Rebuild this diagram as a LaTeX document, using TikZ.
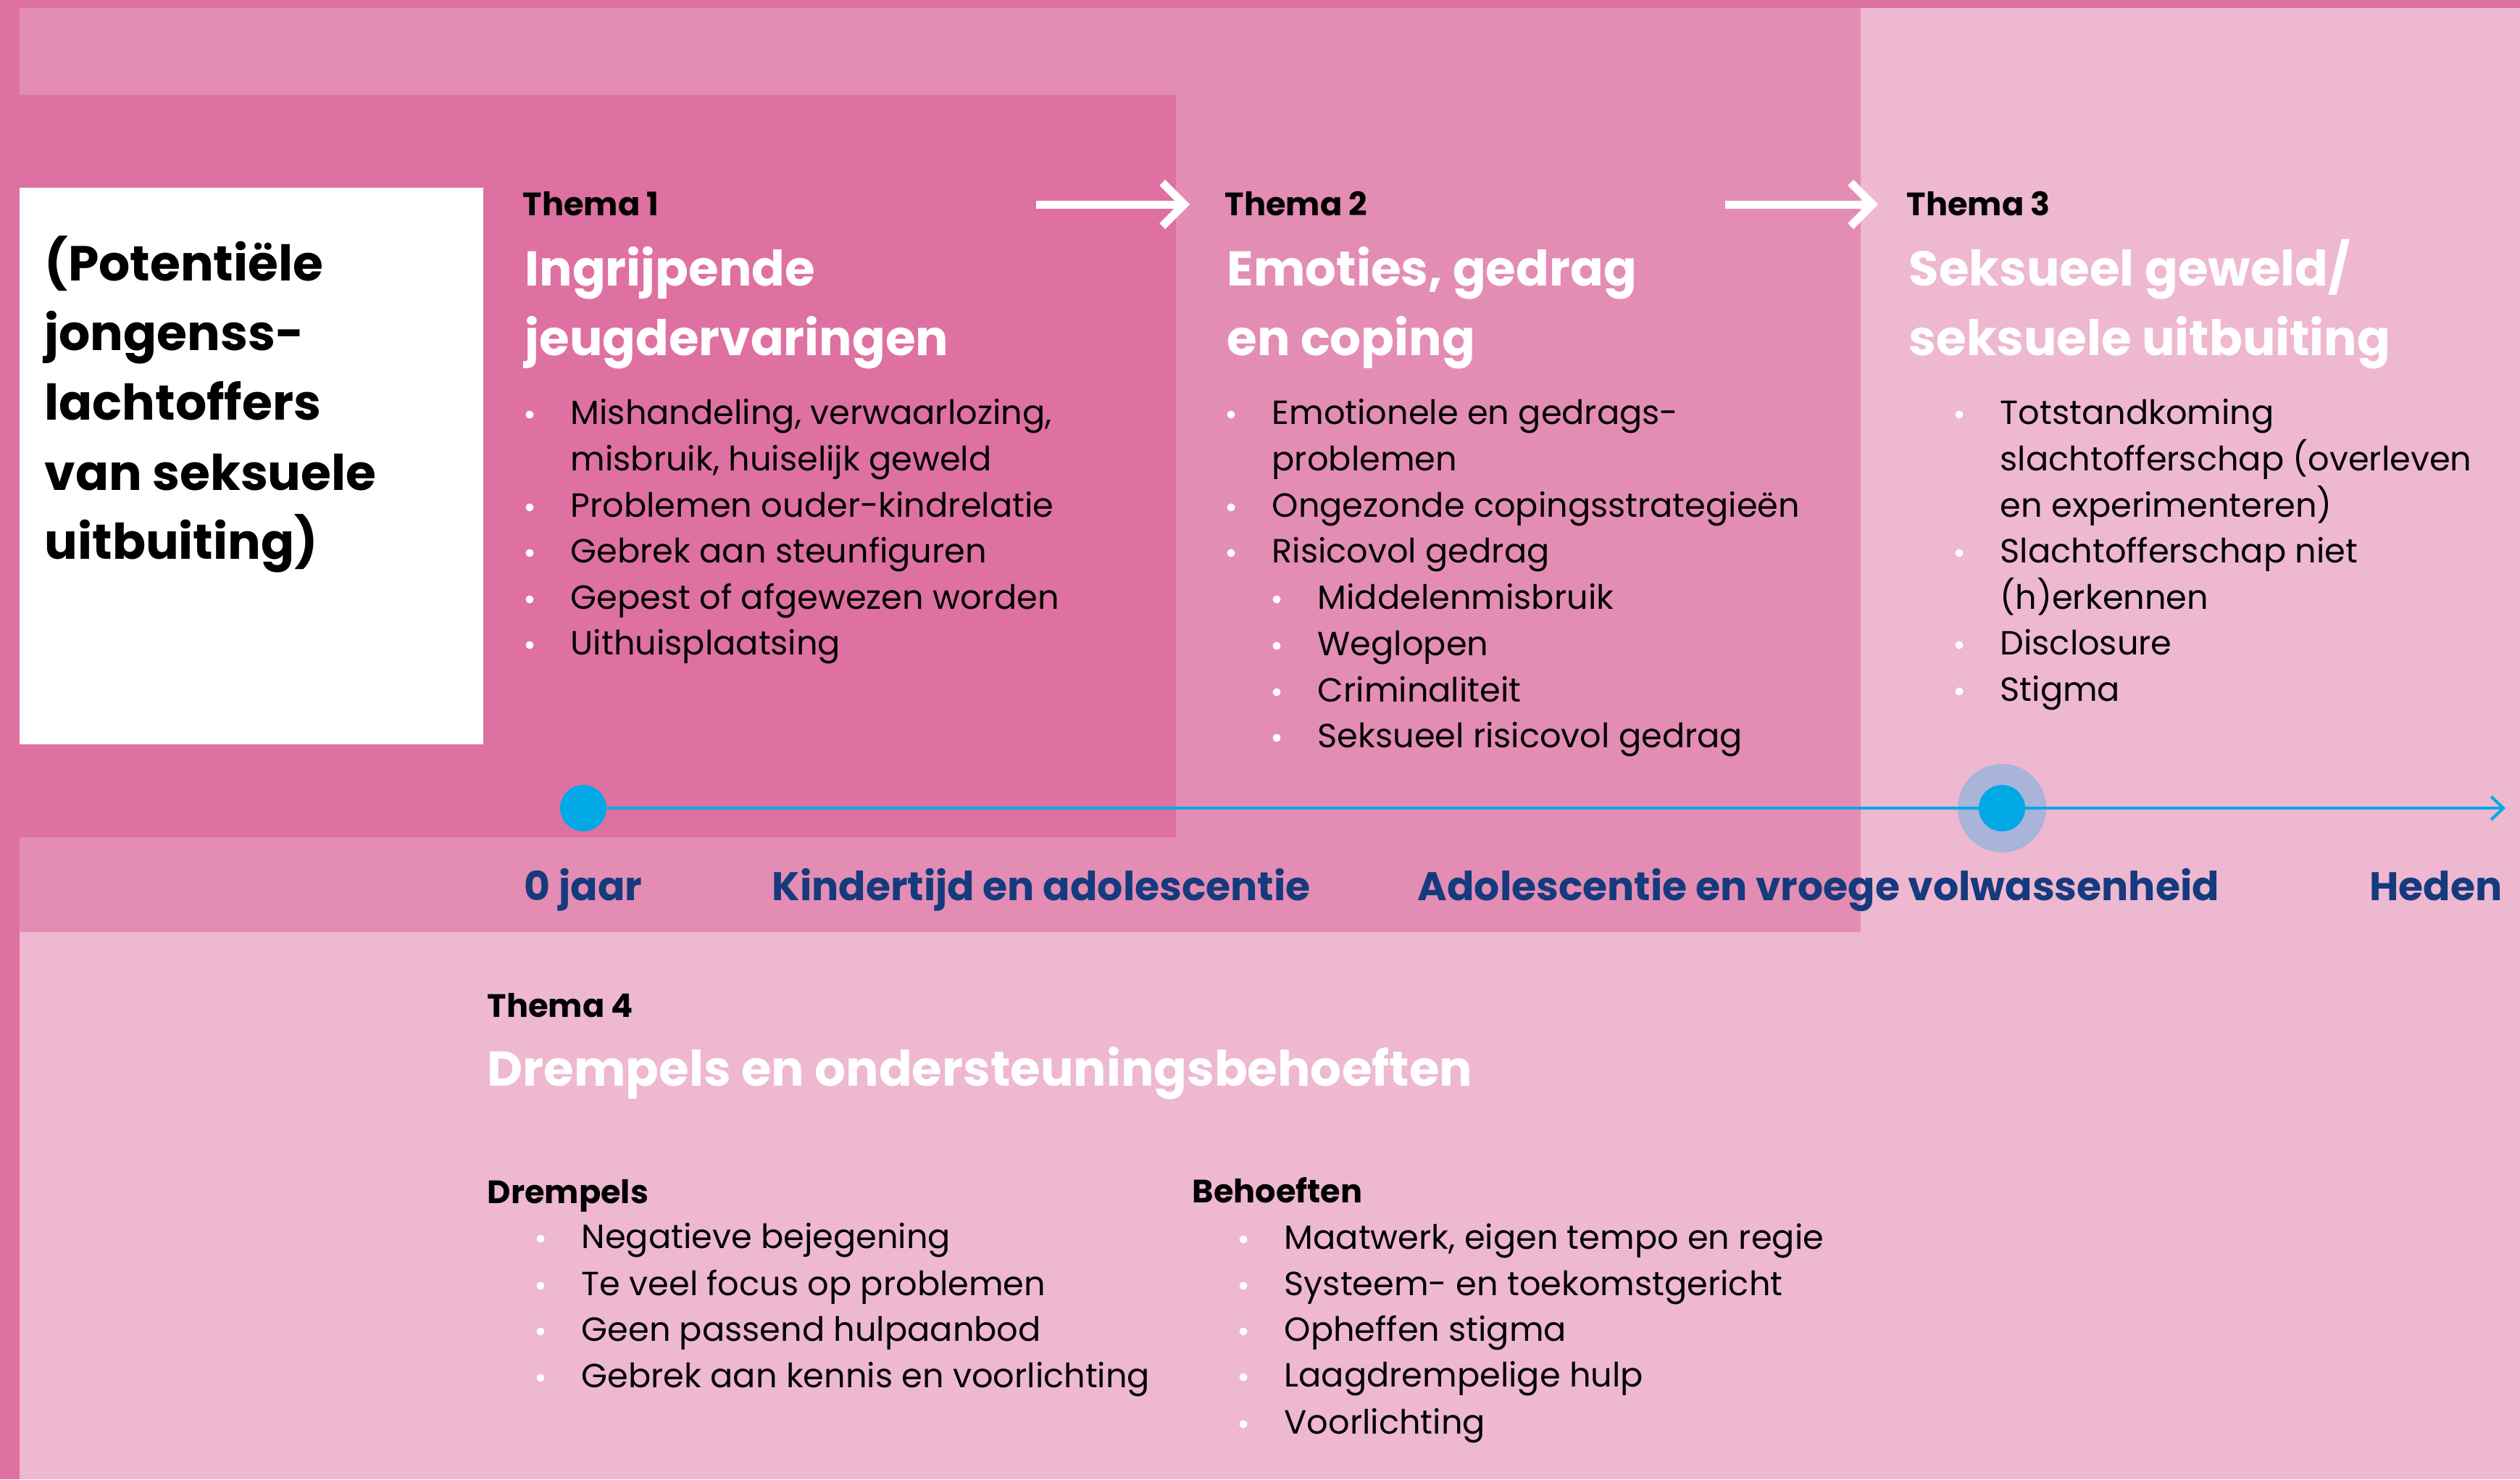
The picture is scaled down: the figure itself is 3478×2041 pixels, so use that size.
\documentclass[tikz,border=0pt]{standalone}
\usepackage{fontspec}
\setmainfont{Poppins}
\usetikzlibrary{arrows.meta}
\definecolor{pdark}{HTML}{DE71A1}
\definecolor{pmed}{HTML}{E38DB4}
\definecolor{plight}{HTML}{EEB8D0}
\definecolor{tcyan}{HTML}{00A9E6}
\definecolor{thalo}{HTML}{A8B4D8}
\definecolor{tblue}{HTML}{153A7D}
\tikzset{
  body/.style={anchor=base west, inner sep=0pt, text=black, font=\fontsize{13.15}{16}\selectfont},
  themalbl/.style={anchor=base west, inner sep=0pt, text=black, font=\fontsize{12.7}{16}\selectfont\bfseries},
  ttl/.style={anchor=base west, inner sep=0pt, text=white, font=\fontsize{19.2}{24}\selectfont\bfseries},
  boxtxt/.style={anchor=base west, inner sep=0pt, text=black, font=\fontsize{19.3}{22}\selectfont\bfseries},
  tlbl/.style={anchor=base west, inner sep=0pt, text=tblue, font=\fontsize{15.7}{20}\selectfont\bfseries},
  warrow/.style={draw=white, line width=0.11cm, -{Straight Barb[length=0.30cm,width=0.60cm]}},
  tline/.style={draw=tcyan, line width=0.04cm, -{Straight Barb[length=0.17cm,width=0.32cm]}},
  tdot/.style={circle, fill=tcyan, inner sep=0pt, minimum size=0.64cm},
  hdot/.style={circle, fill=thalo, inner sep=0pt, minimum size=1.22cm},
}
\newcommand{\bdot}[2]{\fill[white] (#1,#2) circle (0.055cm);}
\begin{document}
\begin{tikzpicture}[x=0.01cm,y=-0.01cm]
\useasboundingbox (0,0) rectangle (3478,2041);
% backgrounds
\fill[pdark] (0,0) rectangle (3478,2041);
\fill[pmed] (27,11) rectangle (2568,1286);
\fill[plight] (2568,11) rectangle (3478,1286);
\fill[plight] (27,1286) rectangle (3478,2041);
\fill[pdark] (0,131) rectangle (1623,1155);
\fill[white] (27,259) rectangle (667,1027);

% white box text
\node[boxtxt] (b1) at (61,387) {(Potentiële};
\node[boxtxt] (b2) at (61,483) {jongenss-};
\node[boxtxt] (b3) at (61,579) {lachtoffers};
\node[boxtxt] (b4) at (61,676) {van seksuele};
\node[boxtxt] (b5) at (61,771) {uitbuiting)};

% arrows between themes
\coordinate (a1s) at (1430,282);
\coordinate (a1e) at (1642,282);
\coordinate (a2s) at (2381,282);
\coordinate (a2e) at (2592,282);
\draw[warrow] (a1s) -- (a1e);
\draw[warrow] (a2s) -- (a2e);

% Thema 1
\node[themalbl] (th1) at (721,297) {Thema 1};
\node[ttl] (t1a) at (724,394) {Ingrijpende};
\node[ttl] (t1b) at (724,490) {jeugdervaringen};
\bdot{731}{572}
\node[body] (t1i1) at (787,585) {Mishandeling, verwaarlozing,};
\node[body] (t1i1b) at (787,649) {misbruik, huiselijk geweld};
\bdot{731}{700}
\node[body] (t1i2) at (787,713) {Problemen ouder-kindrelatie};
\bdot{731}{763}
\node[body] (t1i3) at (787,776) {Gebrek aan steunfiguren};
\bdot{731}{827}
\node[body] (t1i4) at (787,840) {Gepest of afgewezen worden};
\bdot{731}{890}
\node[body] (t1i5) at (787,903) {Uithuisplaatsing};

% Thema 2
\node[themalbl] (th2) at (1690,297) {Thema 2};
\node[ttl] (t2a) at (1693,394) {Emoties, gedrag};
\node[ttl] (t2b) at (1693,490) {en coping};
\bdot{1699}{572}
\node[body] (t2i1) at (1755,585) {Emotionele en gedrags-};
\node[body] (t2i1b) at (1755,649) {problemen};
\bdot{1699}{700}
\node[body] (t2i2) at (1755,713) {Ongezonde copingsstrategieën};
\bdot{1699}{763}
\node[body] (t2i3) at (1755,776) {Risicovol gedrag};
\bdot{1762}{827}
\node[body] (t2s1) at (1818,840) {Middelenmisbruik};
\bdot{1762}{891}
\node[body] (t2s2) at (1818,904) {Weglopen};
\bdot{1762}{955}
\node[body] (t2s3) at (1818,968) {Criminaliteit};
\bdot{1762}{1018}
\node[body] (t2s4) at (1818,1031) {Seksueel risicovol gedrag};

% Thema 3
\node[themalbl] (th3) at (2631,297) {Thema 3};
\node[ttl] (t3a) at (2634,394) {Seksueel geweld/};
\node[ttl] (t3b) at (2634,490) {seksuele uitbuiting};
\bdot{2704}{572}
\node[body] (t3i1) at (2760,585) {Totstandkoming};
\node[body] (t3i1b) at (2760,649) {slachtofferschap (overleven};
\node[body] (t3i1c) at (2760,713) {en experimenteren)};
\bdot{2704}{763}
\node[body] (t3i2) at (2760,776) {Slachtofferschap niet};
\node[body] (t3i2b) at (2760,840) {(h)erkennen};
\bdot{2704}{890}
\node[body] (t3i3) at (2760,903) {Disclosure};
\bdot{2704}{954}
\node[body] (t3i4) at (2760,967) {Stigma};

% timeline
\node[hdot] (halo) at (2763,1115) {};
\node[tdot] (d0) at (805,1115) {};
\coordinate (tend) at (3458,1115);
\draw[tline] (d0.center) -- (tend);
\node[tdot] (d1) at (2763,1115) {};
\node[tlbl] (l0) at (723,1242) {0 jaar};
\node[tlbl] (l1) at (1065,1242) {Kindertijd en adolescentie};
\node[tlbl] (l2) at (1956,1242) {Adolescentie en vroege volwassenheid};
\node[tlbl, anchor=base east] (l3) at (3454,1242) {Heden};

% Thema 4
\node[themalbl] (th4) at (672,1403) {Thema 4};
\node[ttl] (t4) at (672,1498) {Drempels en ondersteuningsbehoeften};
\node[themalbl] (dr) at (672,1660) {Drempels};
\bdot{746}{1709}
\node[body] (dr1) at (802,1722) {Negatieve bejegening};
\bdot{746}{1774}
\node[body] (dr2) at (802,1787) {Te veel focus op problemen};
\bdot{746}{1837}
\node[body] (dr3) at (802,1850) {Geen passend hulpaanbod};
\bdot{746}{1901}
\node[body] (dr4) at (802,1914) {Gebrek aan kennis en voorlichting};
\node[themalbl] (be) at (1645,1659) {Behoeften};
\bdot{1716}{1710}
\node[body] (be1) at (1772,1723) {Maatwerk, eigen tempo en regie};
\bdot{1716}{1774}
\node[body] (be2) at (1772,1787) {Systeem- en toekomstgericht};
\bdot{1716}{1837}
\node[body] (be3) at (1772,1850) {Opheffen stigma};
\bdot{1716}{1900}
\node[body] (be4) at (1772,1913) {Laagdrempelige hulp};
\bdot{1716}{1965}
\node[body] (be5) at (1772,1978) {Voorlichting};
\end{tikzpicture}
\end{document}
